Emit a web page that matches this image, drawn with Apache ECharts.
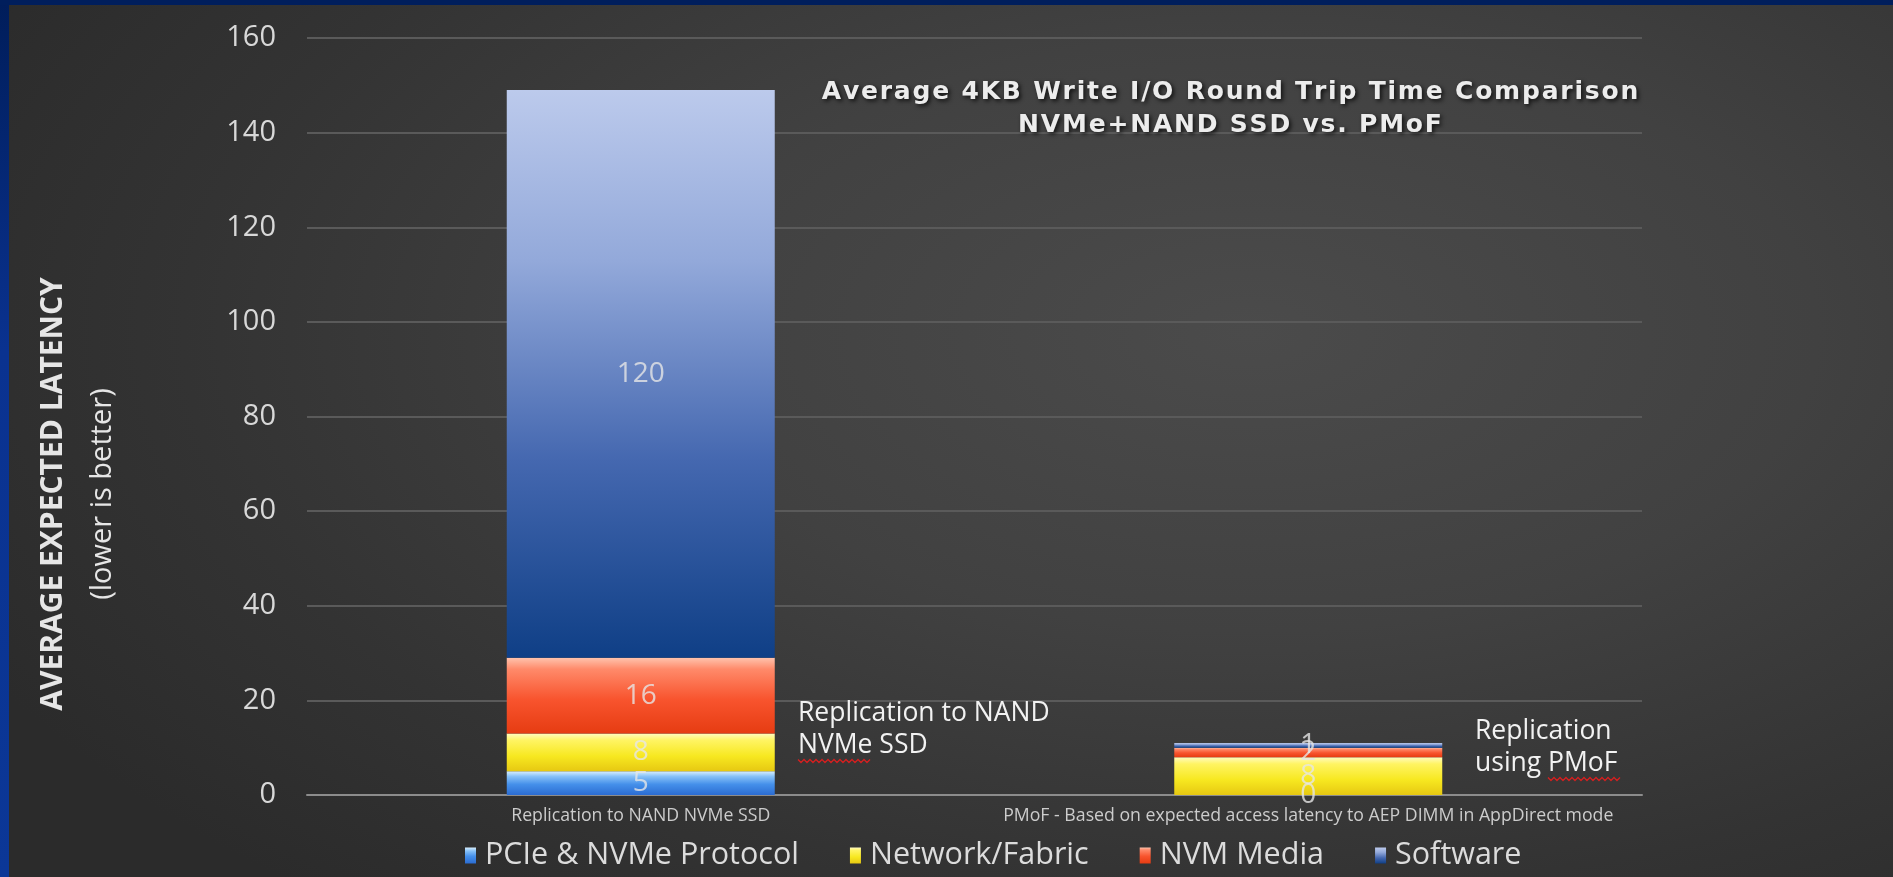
<!DOCTYPE html>
<html>
<head>
<meta charset="utf-8">
<script src="https://cdn.jsdelivr.net/npm/echarts@6/dist/echarts.min.js"></script>
<style>
html,body{margin:0;padding:0;width:1893px;height:877px;overflow:hidden;background:#2c2c2c;}
#wrap{position:absolute;left:0;top:0;width:1893px;height:877px;
 background:radial-gradient(ellipse 75% 85% at 66% 38%, #4b4b4b 0%, #414141 40%, #333333 75%, #2b2b2b 100%);}
#lstrip{position:absolute;left:0;top:0;width:9px;height:877px;background:linear-gradient(#001d5a,#0a3290 40%,#0b3797);}
#tstrip{position:absolute;left:0;top:0;width:1893px;height:5px;background:#001e5c;}
#chart{position:absolute;left:0;top:0;width:1893px;height:877px;}
</style>
</head>
<body>
<div id="wrap"></div>
<div id="lstrip"></div>
<div id="tstrip"></div>
<div id="chart"></div>
<script>
// ---- data ----
const categories = ['Replication to NAND NVMe SSD', 'PMoF - Based on expected access latency to AEP DIMM in AppDirect mode'];
const seriesNames = ['PCIe & NVMe Protocol', 'Network/Fabric', 'NVM Media', 'Software'];
const pcieValues = [5, 0];
const networkValues = [8, 8];
const nvmValues = [16, 2];
const softwareValues = [120, 1];
const yMin = 0, yMax = 160, yStep = 20;
const titleLines = ['Average 4KB Write I/O Round Trip Time Comparison', 'NVMe+NAND SSD vs. PMoF'];
const yTitle = 'AVERAGE EXPECTED LATENCY';
const ySubtitle = '(lower is better)';
const note1 = ['Replication to NAND', 'NVMe SSD'];
const note2 = ['Replication', 'using PMoF'];

// ---- styles ----
const FONT = "'Open Sans', 'DejaVu Sans', sans-serif";
function grad(stops) {
  return new echarts.graphic.LinearGradient(0, 0, 0, 1, stops.map(s => ({offset: s[0], color: s[1]})));
}
const colors = [
  grad([[0,'#d6eeff'],[0.22,'#86c0f7'],[0.55,'#4590ea'],[1,'#2b6cd2']]),
  grad([[0,'#fffbc0'],[0.18,'#fff463'],[0.6,'#f7e820'],[1,'#e6c812']]),
  grad([[0,'#ffc3ad'],[0.15,'#ff8a6a'],[0.55,'#f8542e'],[1,'#e63c12']]),
  grad([[0,'#bccaec'],[0.3,'#93a9da'],[0.65,'#4568b0'],[1,'#0f3f86']])
];
const valueLists = [pcieValues, networkValues, nvmValues, softwareValues];

const series = seriesNames.map((name, i) => ({
  name: name,
  type: 'bar',
  stack: 'total',
  barWidth: 268,
  data: valueLists[i],
  itemStyle: {color: colors[i]},
  label: {
    show: true,
    position: 'inside',
    color: 'rgba(230,230,230,0.8)',
    fontFamily: FONT,
    fontSize: 28
  },
  emphasis: {disabled: true}
}));

function squiggle(x0, x1, y) {
  const pts = [];
  let up = true;
  for (let x = x0; x <= x1; x += 3) { pts.push([x, up ? y - 1.5 : y + 1.5]); up = !up; }
  return {type: 'polyline', shape: {points: pts}, style: {stroke: '#d42020', lineWidth: 1.3, fill: null}, z: 20};
}

// letter-spaced title: each character is its own rich-text token with side padding
const titleRich = titleLines.map(l => l.split('').map(ch => '{c|' + ch + '}').join('')).join('\n');

const chart = echarts.init(document.getElementById('chart'), null, {renderer: 'canvas'});
chart.setOption({
  backgroundColor: 'transparent',
  animation: false,
  title: {
    text: titleRich,
    left: 1225,
    top: 71,
    textAlign: 'center',
    textStyle: {
      lineHeight: 33,
      rich: {
        c: {
          color: '#ececec',
          fontFamily: "'DejaVu Sans', sans-serif",
          fontWeight: 'bold',
          fontSize: 25,
          lineHeight: 33,
          padding: [0, 0.9, 0, 0.9],
          textShadowColor: 'rgba(0,0,0,0.75)',
          textShadowBlur: 4,
          textShadowOffsetX: 2,
          textShadowOffsetY: 2
        }
      }
    }
  },
  grid: {left: 307, right: 251, top: 38, bottom: 82, containLabel: false},
  legend: {
    data: seriesNames,
    left: 460,
    top: 835,
    itemWidth: 11,
    itemHeight: 16,
    itemGap: 51,
    icon: 'rect',
    textStyle: {color: '#dcdcdc', fontFamily: FONT, fontSize: 30.5, padding: [0, 0, 0, 4]}
  },
  xAxis: {
    type: 'category',
    data: categories,
    axisLine: {lineStyle: {color: '#8c8c8c', width: 2}},
    axisTick: {show: false},
    axisLabel: {color: '#cccccc', fontFamily: FONT, fontSize: 17.7, margin: 12, interval: 0}
  },
  yAxis: {
    type: 'value',
    min: yMin,
    max: yMax,
    interval: yStep,
    axisLine: {show: false},
    axisTick: {show: false},
    axisLabel: {color: '#d8d8d8', fontFamily: FONT, fontSize: 29, margin: 31},
    splitLine: {lineStyle: {color: '#5a5a5a', width: 2}}
  },
  series: series,
  graphic: [
    {
      type: 'text',
      x: 78, y: 494,
      rotation: Math.PI / 2,
      style: {
        text: '{a|' + yTitle + '}\n{b|' + ySubtitle + '}',
        align: 'center',
        verticalAlign: 'middle',
        fill: '#e6e6e6',
        rich: {
          a: {fontFamily: FONT, fontWeight: 'bold', fontSize: 30, lineHeight: 49, fill: '#e6e6e6'},
          b: {fontFamily: FONT, fontSize: 29, lineHeight: 49, fill: '#e6e6e6'}
        }
      },
      z: 10
    },
    {
      type: 'text', x: 798, y: 697,
      style: {text: note1.join('\n'), fill: '#f2f2f2', font: '26.5px ' + FONT, lineHeight: 32},
      z: 10
    },
    {
      type: 'text', x: 1475, y: 715,
      style: {text: note2.join('\n'), fill: '#f2f2f2', font: '26.5px ' + FONT, lineHeight: 32},
      z: 10
    },
    squiggle(798, 870, 761),
    squiggle(1548, 1620, 779)
  ]
});
</script>
</body>
</html>
